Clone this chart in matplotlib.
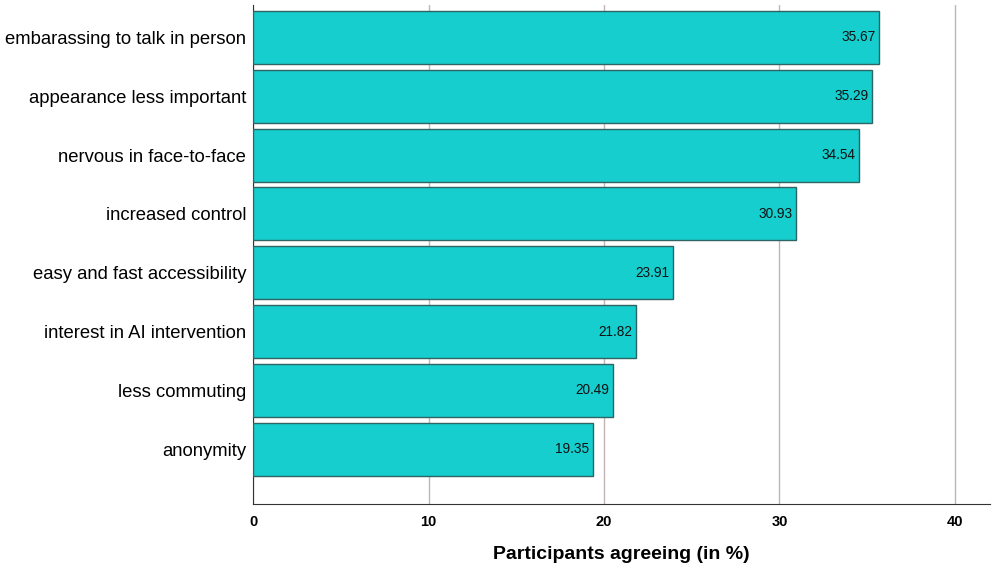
import matplotlib.pyplot as plt

categories = [
    "embarassing to talk in person",
    "appearance less important",
    "nervous in face-to-face",
    "increased control",
    "easy and fast accessibility",
    "interest in AI intervention",
    "less commuting",
    "anonymity",
]
values = [35.67, 35.29, 34.54, 30.93, 23.91, 21.82, 20.49, 19.35]
xticks = [0, 10, 20, 30, 40]

plt.rcParams['font.family'] = ['Liberation Sans', 'DejaVu Sans']

fig = plt.figure(figsize=(9.95, 5.72), dpi=100)
ax = fig.add_axes([0.2543, 0.119, 0.7407, 0.872])

pos = list(range(len(categories)))
bars = ax.barh(pos, values, height=0.9, color='#16cece',
               edgecolor='#2e6464', linewidth=1.0, zorder=3)

for b, v in zip(bars, values):
    ax.text(v - 0.2, b.get_y() + b.get_height() / 2, f"{v:.2f}",
            ha='right', va='center', fontsize=9.8, color='#111111', zorder=4)

ax.set_yticks(pos)
ax.set_yticklabels(categories, fontsize=13.3)
ax.set_ylim(len(categories) - 0.07, -0.55)
ax.set_xlim(0, 42)
ax.set_xticks(xticks)
ax.set_xticklabels([str(t) for t in xticks], fontsize=10.5, fontweight='bold')
ax.tick_params(axis='both', length=0)
ax.tick_params(axis='x', pad=8)
ax.tick_params(axis='y', pad=5)

ax.xaxis.grid(True, color='#c2b4b4', linewidth=1.0, zorder=0)
ax.set_axisbelow(True)

for side in ['top', 'right']:
    ax.spines[side].set_visible(False)
ax.spines['left'].set_color('#333333')
ax.spines['bottom'].set_color('#333333')

ax.set_xlabel('Participants agreeing (in %)', fontsize=14, fontweight='bold',
              labelpad=12)

fig.savefig('out.png', dpi=100)
